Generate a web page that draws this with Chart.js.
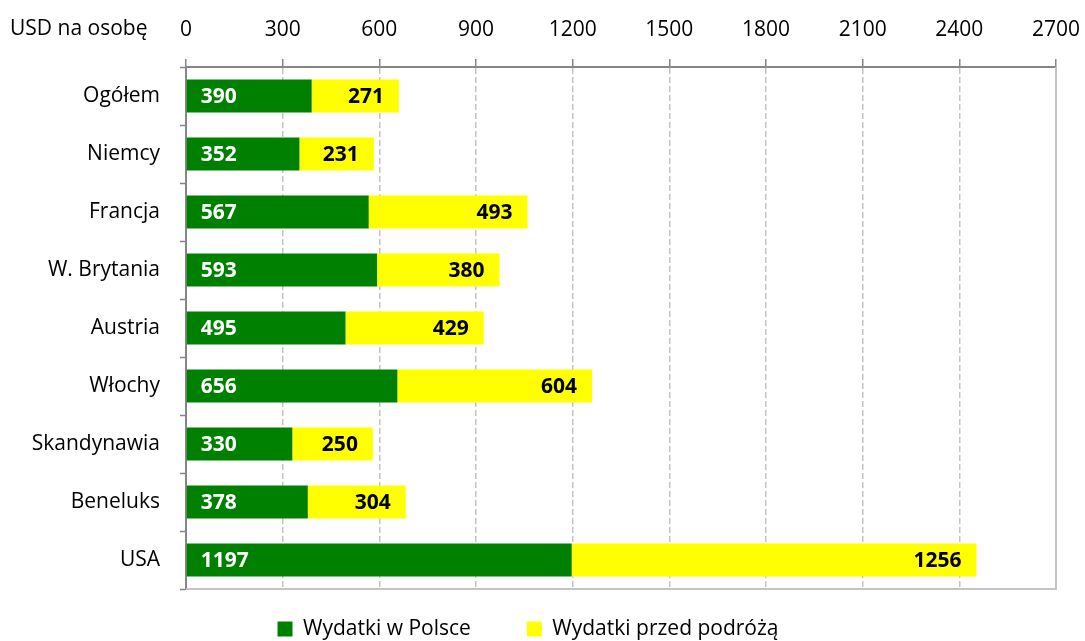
<!DOCTYPE html>
<html>
<head>
<meta charset="utf-8">
<script src="https://cdn.jsdelivr.net/npm/chart.js@4/dist/chart.umd.min.js"></script>
<style>
  html, body { margin: 0; padding: 0; background: #fff; }
  #wrap { width: 1085px; height: 641px; position: relative; }
</style>
</head>
<body>
<div id="wrap"><canvas id="c"></canvas></div>
<script>
const categories = ['Ogółem', 'Niemcy', 'Francja', 'W. Brytania', 'Austria', 'Włochy', 'Skandynawia', 'Beneluks', 'USA'];
const wydatkiWPolsce = [390, 352, 567, 593, 495, 656, 330, 378, 1197];
const wydatkiPrzedPodroza = [271, 231, 493, 380, 429, 604, 250, 304, 1256];
const seriesNames = ['Wydatki w Polsce', 'Wydatki przed podróżą'];
const axisTitle = 'USD na osobę';
const xMin = 0, xMax = 2700, xStep = 300;

const FONT = "'Open Sans', 'Liberation Sans', sans-serif";

const framePlugin = {
  id: 'frame',
  beforeDatasetsDraw(chart) {
    const {ctx, chartArea: a} = chart;
    ctx.save();
    ctx.strokeStyle = '#c4c4c4';
    ctx.lineWidth = 2;
    ctx.beginPath();
    ctx.moveTo(a.right, a.top);
    ctx.lineTo(a.right, a.bottom);
    ctx.lineTo(a.left, a.bottom);
    ctx.stroke();
    ctx.restore();
  },
  afterDraw(chart) {
    const {ctx} = chart;
    ctx.save();
    ctx.font = '21px ' + FONT;
    ctx.fillStyle = '#000';
    ctx.textAlign = 'left';
    ctx.textBaseline = 'middle';
    ctx.fillText(axisTitle, 10, 29);
    ctx.restore();
  }
};

const labelPlugin = {
  id: 'barLabels',
  afterDatasetsDraw(chart) {
    const {ctx} = chart;
    ctx.save();
    ctx.font = 'bold 21px ' + FONT;
    ctx.textBaseline = 'middle';
    chart.data.datasets.forEach((ds, di) => {
      const meta = chart.getDatasetMeta(di);
      meta.data.forEach((el, i) => {
        const v = ds.data[i];
        const left = Math.min(el.base, el.x), right = Math.max(el.base, el.x);
        if (di === 0) {
          ctx.fillStyle = '#ffffff';
          ctx.textAlign = 'left';
          ctx.fillText(String(v), left + 14, el.y + 1);
        } else {
          ctx.fillStyle = '#000000';
          ctx.textAlign = 'right';
          ctx.fillText(String(v), right - 15, el.y + 1);
        }
      });
    });
    ctx.restore();
  }
};

new Chart(document.getElementById('c'), {
  type: 'bar',
  data: {
    labels: categories,
    datasets: [
      { label: seriesNames[0], data: wydatkiWPolsce, backgroundColor: '#008000', borderWidth: 0 },
      { label: seriesNames[1], data: wydatkiPrzedPodroza, backgroundColor: '#ffff00', borderWidth: 0 }
    ]
  },
  options: {
    indexAxis: 'y',
    responsive: true,
    maintainAspectRatio: false,
    animation: false,
    datasets: { bar: { categoryPercentage: 0.57, barPercentage: 1 } },
    layout: { padding: { top: 0, right: 29, bottom: 0, left: 0 } },
    scales: {
      x: {
        position: 'top',
        stacked: true,
        min: xMin, max: xMax,
        ticks: { stepSize: xStep, color: '#000', font: { family: FONT, size: 21 }, padding: 16, maxRotation: 0,
                 callback: (v) => String(v) },
        grid: { color: '#c4c4c4', lineWidth: 1.5, borderDash: [6, 3], tickLength: 8, tickColor: '#868686', tickWidth: 1.5, tickBorderDash: [] },
        border: { color: '#868686', width: 2, dash: [6, 3] },
        afterFit(s) { s.height = 67; s.paddingLeft = 0; s.paddingRight = 0; }
      },
      y: {
        stacked: true,
        ticks: { color: '#000', font: { family: FONT, size: 21 }, padding: 20 },
        grid: { drawOnChartArea: false, offset: true, tickLength: 6, tickColor: '#868686', tickWidth: 1.5 },
        border: { color: '#868686', width: 2 },
        afterFit(s) { s.width = 186; s.paddingTop = 0; s.paddingBottom = 0; }
      }
    },
    plugins: {
      tooltip: { enabled: false },
      legend: {
        position: 'bottom',
        maxHeight: 52,
        title: { display: true, text: '', font: { size: 1 }, padding: { top: 0, bottom: -27.7 } },
        labels: { color: '#000', font: { family: FONT, size: 21 }, boxWidth: 15, boxHeight: 15, padding: 56 }
      }
    }
  },
  plugins: [framePlugin, labelPlugin]
});
</script>
</body>
</html>
